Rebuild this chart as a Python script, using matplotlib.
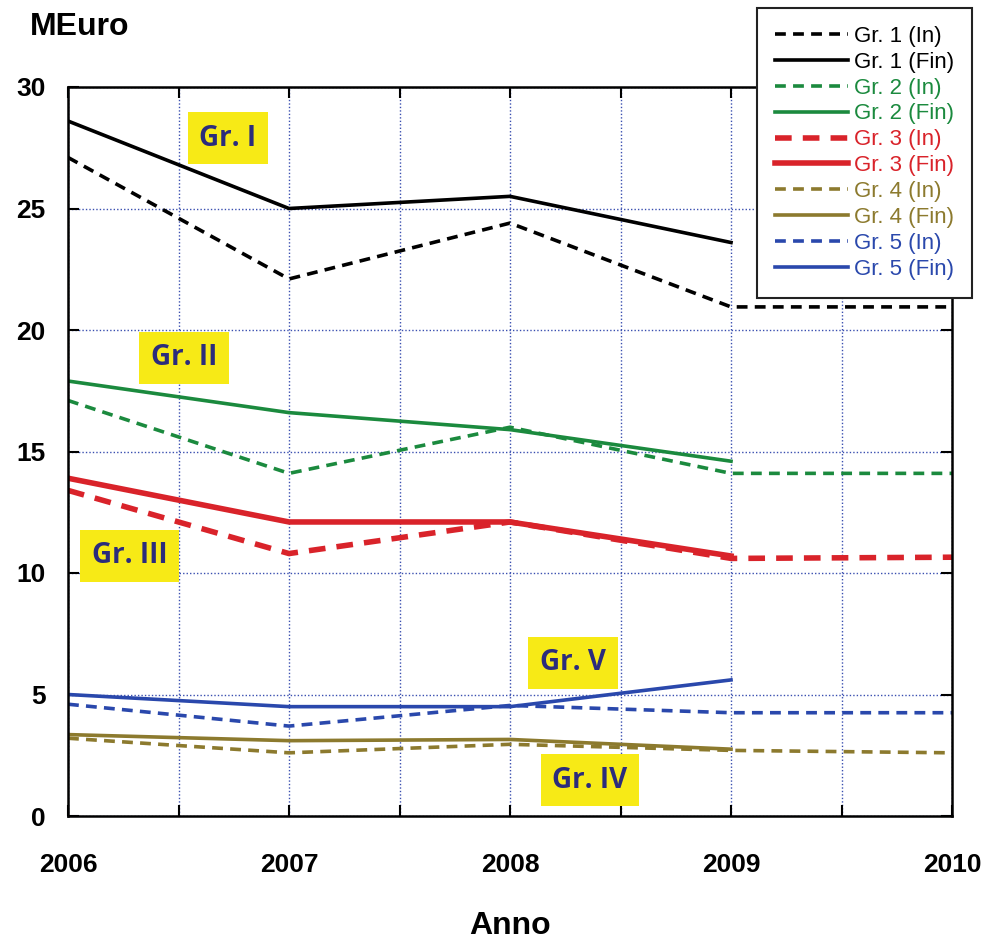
import matplotlib.pyplot as plt
from matplotlib.ticker import MultipleLocator

years = [2006, 2007, 2008, 2009, 2010]
years_fin = [2006, 2007, 2008, 2009]

gr1_in = [27.1, 22.1, 24.4, 20.95, 20.95]
gr1_fin = [28.6, 25.0, 25.5, 23.6]
gr2_in = [17.1, 14.1, 16.0, 14.1, 14.1]
gr2_fin = [17.9, 16.6, 15.9, 14.6]
gr3_in = [13.4, 10.8, 12.1, 10.6, 10.65]
gr3_fin = [13.9, 12.1, 12.1, 10.7]
gr4_in = [3.2, 2.6, 2.95, 2.7, 2.6]
gr4_fin = [3.35, 3.1, 3.15, 2.75]
gr5_in = [4.6, 3.7, 4.55, 4.25, 4.25]
gr5_fin = [5.0, 4.5, 4.5, 5.6]

colors = ["#000000", "#1b8a3e", "#d9232a", "#8c7a2e", "#2a48ac"]
series_in = [gr1_in, gr2_in, gr3_in, gr4_in, gr5_in]
series_fin = [gr1_fin, gr2_fin, gr3_fin, gr4_fin, gr5_fin]

# group labels: (text, x, y)
group_labels = [
    ("Gr. I", 2006.724, 27.9),
    ("Gr. II", 2006.525, 18.85),
    ("Gr. III", 2006.28, 10.7),
    ("Gr. V", 2008.285, 6.3),
    ("Gr. IV", 2008.362, 1.48),
]

fig = plt.figure(figsize=(9.89, 9.51), dpi=100)
ax = fig.add_axes([68 / 989, 1 - 816 / 951, (952 - 68) / 989, (816 - 87) / 951])

for i in range(5):
    lw = 4.0 if i == 2 else 2.6
    ax.plot(years, series_in[i], color=colors[i], lw=lw, ls=(0, (3, 2)),
            label=f"Gr. {i + 1} (In)")
    ax.plot(years_fin, series_fin[i], color=colors[i], lw=lw, ls="-",
            label=f"Gr. {i + 1} (Fin)")

ax.set_xlim(2006, 2010)
ax.set_ylim(0, 30)
ax.xaxis.set_major_locator(MultipleLocator(1))
ax.xaxis.set_minor_locator(MultipleLocator(0.5))
ax.yaxis.set_major_locator(MultipleLocator(5))
ax.grid(which="both", axis="x", color="#3a4fb0", ls=(0, (1, 1.5)), lw=1.0)
ax.grid(which="major", axis="y", color="#3a4fb0", ls=(0, (1, 1.5)), lw=1.0)
ax.tick_params(which="both", direction="in", top=True, right=True,
               length=8, width=1.5, labelsize=19)
ax.tick_params(axis="x", which="both", pad=27)
ax.tick_params(axis="y", pad=16)
for lab in ax.get_xticklabels() + ax.get_yticklabels():
    lab.set_fontweight("bold")
    lab.set_family("Liberation Sans")
for sp in ax.spines.values():
    sp.set_linewidth(1.8)

fig.text(30 / 989, 1 - 27 / 951, "MEuro", fontsize=23, fontweight="bold",
         family="Liberation Sans", va="center", ha="left")
ax.set_xlabel("Anno", fontsize=23, fontweight="bold", family="Liberation Sans",
              labelpad=24)

for text, x, y in group_labels:
    ax.text(x, y, text, fontsize=20, fontweight="bold", family="Open Sans",
            color="#2b2c7c", ha="center", va="center",
            bbox=dict(boxstyle="square,pad=0.42", fc="#f7ea16", ec="none"))

leg = ax.legend(loc="upper left", bbox_to_anchor=(757 / 989, 1 - 8 / 951),
                bbox_transform=fig.transFigure, frameon=True, borderaxespad=0,
                fancybox=False, edgecolor="#222222", framealpha=1,
                handlelength=3.3, handletextpad=0.25, labelspacing=0.22,
                borderpad=0.8, prop={"family": "Liberation Sans", "size": 16})
leg.get_frame().set_linewidth(1.5)
leg.set_zorder(10)
for t, l in zip(leg.get_texts(), leg.get_lines()):
    t.set_color(l.get_color())

fig.savefig("out.png", dpi=100)
